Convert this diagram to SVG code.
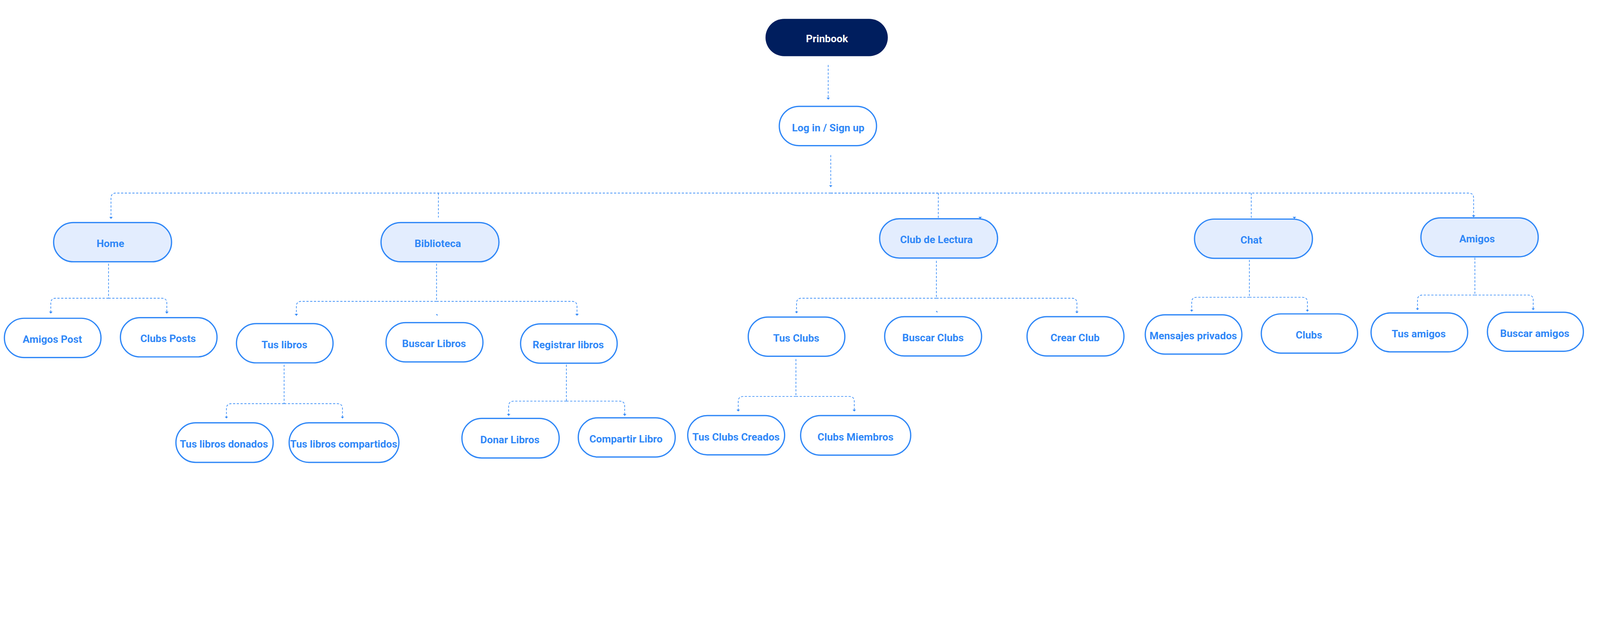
<svg xmlns="http://www.w3.org/2000/svg" width="5102" height="1604" viewBox="0 0 5102 1604">
<defs>
<style>
svg:root{width:100vw;height:auto;max-height:100vh;display:block}
.n rect{stroke:#2F87F7;stroke-width:4;fill:#FFFFFF}
.n.l rect{fill:#E3EDFE}
.n text{font-family:Roboto,"Liberation Sans",sans-serif;font-weight:700;font-size:33px;fill:#2F87F7;text-anchor:middle}
#prinbook rect{fill:#001E5E;stroke:none}
#prinbook text{fill:#FFFFFF}
.c path{fill:none;stroke:#2F87F7;stroke-width:2;stroke-dasharray:7 5}
.c path.a{marker-end:url(#arr)}
.c polygon{fill:#2F87F7}
</style>
<marker id="arr" markerUnits="userSpaceOnUse" markerWidth="7" markerHeight="12" refX="6" refY="6" orient="auto" viewBox="0 0 7 12">
<path d="M0,0.5 L6,6 L0,11.5 z" fill="#2F87F7"/>
</marker>
</defs>
<rect width="5102" height="1604" fill="#FFFFFF"/>
<g id="connectors" class="c">
<path class="a" d="M2641,207 V317"/>
<path class="a" d="M2649,494 V596"/>
<path d="M2649,615 H3000"/>
<path class="a" d="M2649,615 H370 Q354,615 354,631 V697"/>
<path class="a" d="M2649,615 H4683 Q4699,615 4699,631 V692"/>
<path d="M1398,615 V693"/>
<path d="M2992,615 V694"/>
<path d="M3990,615 V694"/>
<polygon points="3120,691 3131,691 3125.5,697"/>
<polygon points="4122,691 4133,691 4127.5,697"/>
<path d="M346,840 V950"/>
<path class="a" d="M346,950 H178 Q162,950 162,966 V999"/>
<path class="a" d="M346,950 H516 Q532,950 532,966 V999"/>
<path d="M1392,840 V960"/>
<path class="a" d="M1392,960 H961 Q945,960 945,976 V1006"/>
<path class="a" d="M1392,960 H1824 Q1840,960 1840,976 V1006"/>
<polygon points="1390,1001 1395,1001 1395,1007"/>
<path d="M906,1162 V1286"/>
<path class="a" d="M906,1286 H738 Q722,1286 722,1302 V1333"/>
<path class="a" d="M906,1286 H1076 Q1092,1286 1092,1302 V1333"/>
<path d="M1806,1162 V1278"/>
<path class="a" d="M1806,1278 H1638 Q1622,1278 1622,1294 V1325"/>
<path class="a" d="M1806,1278 H1976 Q1992,1278 1992,1294 V1325"/>
<path d="M2986,831 V950"/>
<path class="a" d="M2986,950 H2556 Q2540,950 2540,966 V998"/>
<path class="a" d="M2986,950 H3418 Q3434,950 3434,966 V998"/>
<polygon points="2984,991 2989,991 2989,997"/>
<path d="M2538,1144 V1263"/>
<path class="a" d="M2538,1263 H2370 Q2354,1263 2354,1279 V1311"/>
<path class="a" d="M2538,1263 H2708 Q2724,1263 2724,1279 V1311"/>
<path d="M3984,828 V947"/>
<path class="a" d="M3984,947 H3816 Q3800,947 3800,963 V993"/>
<path class="a" d="M3984,947 H4153 Q4169,947 4169,963 V993"/>
<path d="M4703,821 V940"/>
<path class="a" d="M4703,940 H4536 Q4520,940 4520,956 V988"/>
<path class="a" d="M4703,940 H4873 Q4889,940 4889,956 V988"/>
</g>
<g id="prinbook" class="n"><rect x="2441" y="60" width="390" height="119" rx="59.5"/><text x="2637" y="135">Prinbook</text></g>
<g id="login" class="n"><rect x="2485" y="339" width="310" height="125" rx="62.5"/><text x="2641" y="418">Log in / Sign up</text></g>
<g id="home" class="n l"><rect x="171" y="709" width="376" height="125" rx="62.5"/><text x="352" y="787">Home</text></g>
<g id="biblioteca" class="n l"><rect x="1215" y="709" width="376" height="125" rx="62.5"/><text x="1396" y="787">Biblioteca</text></g>
<g id="club-lectura" class="n l"><rect x="2805" y="697" width="376" height="125" rx="62.5"/><text x="2986" y="775">Club de Lectura</text></g>
<g id="chat" class="n l"><rect x="3809" y="698" width="376" height="125" rx="62.5"/><text x="3990" y="776">Chat</text></g>
<g id="amigos" class="n l"><rect x="4531" y="694" width="374" height="124" rx="62"/><text x="4710" y="772">Amigos</text></g>
<g id="amigos-post" class="n"><rect x="14" y="1014" width="308" height="125" rx="62.5"/><text x="167" y="1092">Amigos Post</text></g>
<g id="clubs-posts" class="n"><rect x="384" y="1012" width="308" height="125" rx="62.5"/><text x="536" y="1090">Clubs Posts</text></g>
<g id="tus-libros" class="n"><rect x="754" y="1031" width="308" height="125" rx="62.5"/><text x="907" y="1109">Tus libros</text></g>
<g id="buscar-libros" class="n"><rect x="1231" y="1028" width="309" height="125" rx="62.5"/><text x="1384" y="1106">Buscar Libros</text></g>
<g id="registrar-libros" class="n"><rect x="1660" y="1032" width="308" height="125" rx="62.5"/><text x="1812" y="1110">Registrar libros</text></g>
<g id="tus-clubs" class="n"><rect x="2386" y="1010" width="308" height="125" rx="62.5"/><text x="2539" y="1088">Tus Clubs</text></g>
<g id="buscar-clubs" class="n"><rect x="2821" y="1009" width="309" height="125" rx="62.5"/><text x="2975" y="1087">Buscar Clubs</text></g>
<g id="crear-club" class="n"><rect x="3275" y="1009" width="309" height="125" rx="62.5"/><text x="3428" y="1087">Crear Club</text></g>
<g id="mensajes-privados" class="n"><rect x="3652" y="1003" width="308" height="125" rx="62.5"/><text x="3805" y="1081">Mensajes privados</text></g>
<g id="clubs" class="n"><rect x="4022" y="1000" width="307" height="125" rx="62.5"/><text x="4174" y="1078">Clubs</text></g>
<g id="tus-amigos" class="n"><rect x="4372" y="997" width="308" height="124" rx="62"/><text x="4524" y="1075">Tus amigos</text></g>
<g id="buscar-amigos" class="n"><rect x="4743" y="995" width="306" height="124" rx="62"/><text x="4894" y="1073">Buscar amigos</text></g>
<g id="tus-libros-donados" class="n"><rect x="561" y="1347" width="310" height="126" rx="63"/><text x="714" y="1426">Tus libros donados</text></g>
<g id="tus-libros-compartidos" class="n"><rect x="922" y="1347" width="350" height="126" rx="63"/><text x="1096" y="1426">Tus libros compartidos</text></g>
<g id="donar-libros" class="n"><rect x="1473" y="1333" width="310" height="126" rx="63"/><text x="1626" y="1412">Donar Libros</text></g>
<g id="compartir-libro" class="n"><rect x="1844" y="1331" width="309" height="125" rx="62.5"/><text x="1996" y="1410">Compartir Libro</text></g>
<g id="tus-clubs-creados" class="n"><rect x="2193" y="1324" width="309" height="125" rx="62.5"/><text x="2347" y="1403">Tus Clubs Creados</text></g>
<g id="clubs-miembros" class="n"><rect x="2553" y="1324" width="351" height="126" rx="63"/><text x="2728" y="1403">Clubs Miembros</text></g>
</svg>
